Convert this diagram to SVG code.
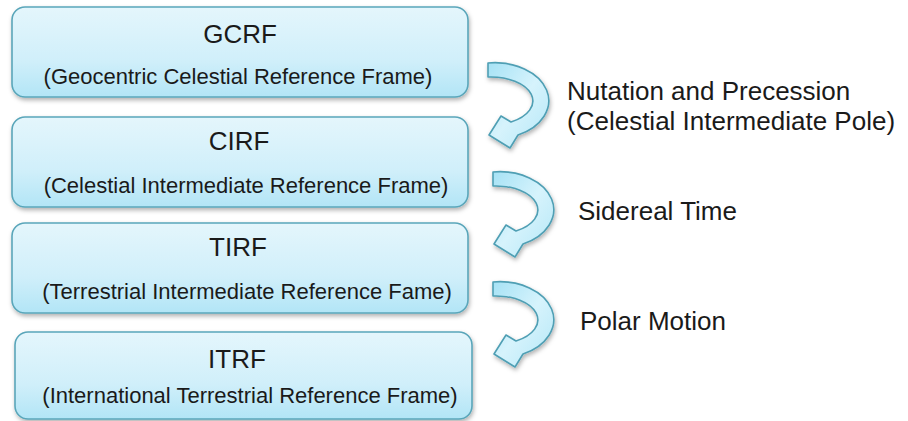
<svg xmlns="http://www.w3.org/2000/svg" width="908" height="421" viewBox="0 0 908 421">
  <style>
    .box { fill: url(#boxFill); stroke: #5aa6ba; stroke-width: 1.6; filter: url(#shadow); }
    .arrow { fill: url(#arrowFill); stroke: #4f9fb4; stroke-width: 1.6; stroke-linejoin: round; filter: url(#shadow); }
    .title { font-family: "Liberation Sans", Arial, sans-serif; font-size: 26px; fill: #1a1a1a; text-anchor: middle; }
    .sub { font-family: "Liberation Sans", Arial, sans-serif; font-size: 22px; fill: #1a1a1a; text-anchor: middle; }
    .label { font-family: "Liberation Sans", Arial, sans-serif; font-size: 26px; fill: #1a1a1a; }
  </style>
  <defs>
    <linearGradient id="boxFill" x1="0" y1="0" x2="0" y2="1">
      <stop offset="0" stop-color="#e4f6fc"/>
      <stop offset="0.6" stop-color="#d0effa"/>
      <stop offset="1" stop-color="#b2e5f6"/>
    </linearGradient>
    <linearGradient id="arrowFill" x1="0" y1="0" x2="1" y2="1">
      <stop offset="0" stop-color="#a6e2f5"/>
      <stop offset="0.5" stop-color="#d6f3fc"/>
      <stop offset="1" stop-color="#b4e7f7"/>
    </linearGradient>
    <filter id="shadow" x="-10%" y="-10%" width="120%" height="130%">
      <feDropShadow dx="1" dy="2.5" stdDeviation="2" flood-color="#000" flood-opacity="0.3"/>
    </filter>
    <!-- curved transition arrow, drawn once and reused -->
    <path id="curl" d="M 488,63 A 54 38 0 0 1 518,135 L 510,148 L 489,135 L 501,116 L 511,122 A 42 24 0 0 0 488,77 Z"/>
  </defs>

  <rect width="908" height="421" fill="#ffffff"/>

  <g id="connectors">
    <use href="#curl" class="arrow"/>
    <use href="#curl" class="arrow" transform="translate(5,109)"/>
    <use href="#curl" class="arrow" transform="translate(5,219)"/>
  </g>

  <g id="gcrf">
    <rect class="box" x="12" y="7" width="456" height="90" rx="13"/>
    <text class="title" x="240" y="43">GCRF</text>
    <text class="sub" x="238" y="84">(Geocentric Celestial Reference Frame)</text>
  </g>
  <g id="cirf">
    <rect class="box" x="12" y="117" width="456" height="90" rx="13"/>
    <text class="title" x="239" y="150">CIRF</text>
    <text class="sub" x="246" y="193">(Celestial Intermediate Reference Frame)</text>
  </g>
  <g id="tirf">
    <rect class="box" x="12" y="223" width="456" height="90" rx="13"/>
    <text class="title" x="238" y="256">TIRF</text>
    <text class="sub" x="247" y="299">(Terrestrial Intermediate Reference Fame)</text>
  </g>
  <g id="itrf">
    <rect class="box" x="15" y="332" width="457" height="87" rx="13"/>
    <text class="title" x="237" y="368">ITRF</text>
    <text class="sub" x="250" y="403">(International Terrestrial Reference Frame)</text>
  </g>

  <g id="labels">
    <text class="label" x="567" y="100">Nutation and Precession</text>
    <text class="label" x="567" y="130">(Celestial Intermediate Pole)</text>
    <text class="label" x="578" y="220">Sidereal Time</text>
    <text class="label" x="580" y="330">Polar Motion</text>
  </g>
</svg>
